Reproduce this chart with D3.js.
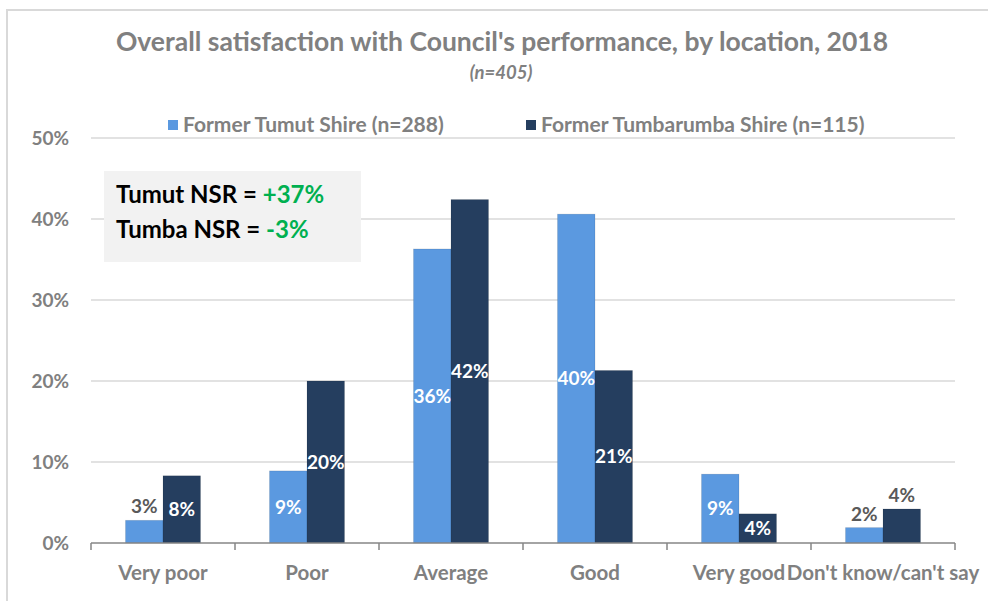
<!DOCTYPE html>
<html>
<head>
<meta charset="utf-8">
<script src="https://cdn.jsdelivr.net/npm/d3@7"></script>
<style>
  body { margin: 0; background: #fff; }
  text { font-family: Lato, "Open Sans", sans-serif; font-weight: bold; }
</style>
</head>
<body>
<div id="chart"></div>
<script>
// chart data
let categories = ["Very poor", "Poor", "Average", "Good", "Very good", "Don't know/can't say"];
let seriesNames = ["Former Tumut Shire (n=288)", "Former Tumbarumba Shire (n=115)"];
let tumut = [2.8, 8.9, 36.3, 40.6, 8.5, 1.9];
let tumba = [8.3, 20.0, 42.4, 21.3, 3.6, 4.2];
let tumutLabels = ["3%", "9%", "36%", "40%", "9%", "2%"];
let tumbaLabels = ["8%", "20%", "42%", "21%", "4%", "4%"];
let yTicks = [0, 10, 20, 30, 40, 50];

// set SVG height, width, and margins
let svgWidth = 988;
let svgHeight = 601;
let margin = { top: 138, right: 33, bottom: 58, left: 91 };
let width = svgWidth - margin.left - margin.right;
let height = svgHeight - margin.top - margin.bottom;

let colors = ["#5B99E0", "#253E5F"];
// labels drawn above the bar instead of inside it
let outside = [["Very poor", 0], ["Don't know/can't say", 0], ["Don't know/can't say", 1]];

let svg = d3.select("#chart")
  .append("svg")
  .attr("width", svgWidth)
  .attr("height", svgHeight);

// chart frame
svg.append("path")
  .attr("d", `M7,${svgHeight} V10 H${svgWidth}`)
  .attr("fill", "none")
  .attr("stroke", "#d9d9d9")
  .attr("stroke-width", 2);

// title
svg.append("text")
  .attr("x", 502)
  .attr("y", 51)
  .attr("text-anchor", "middle")
  .attr("fill", "#808080")
  .style("font-size", "26.5px")
  .text("Overall satisfaction with Council's performance, by location, 2018");

svg.append("text")
  .attr("x", 501)
  .attr("y", 79)
  .attr("text-anchor", "middle")
  .attr("fill", "#808080")
  .style("font-size", "18.5px")
  .style("font-style", "italic")
  .text("(n=405)");

let chartGroup = svg.append("g")
  .attr("transform", `translate(${margin.left}, ${margin.top})`);

let xScale = d3.scaleBand()
  .domain(categories)
  .range([0, width]);

let xInner = d3.scaleBand()
  .domain([0, 1])
  .range([0, 75])
  .padding(0);

let yScale = d3.scaleLinear()
  .domain([0, 50])
  .range([height, 0]);

// gridlines
chartGroup.append("g")
  .selectAll("line")
  .data(yTicks.filter(d => d > 0))
  .join("line")
  .attr("x1", 0)
  .attr("x2", width)
  .attr("y1", d => yScale(d))
  .attr("y2", d => yScale(d))
  .attr("stroke", "#d9d9d9")
  .attr("stroke-width", 1.5);

// y axis labels
let leftAxis = d3.axisLeft(yScale)
  .tickValues(yTicks)
  .tickFormat(d => d + "%")
  .tickSize(0)
  .tickPadding(22);

let yAxis = chartGroup.append("g").call(leftAxis);
yAxis.select(".domain").remove();
yAxis.selectAll("text")
  .attr("fill", "#808080")
  .style("font-size", "19px")
  .style("font-family", "Lato, sans-serif");

// bars
let series = [tumut, tumba];
let labels = [tumutLabels, tumbaLabels];
let barData = [];
categories.forEach((c, i) => {
  series.forEach((s, j) => {
    barData.push({ cat: c, s: j, value: s[i], label: labels[j][i] });
  });
});

let offset = (xScale.bandwidth() - 75) / 2;

chartGroup.selectAll("rect.bar")
  .data(barData)
  .join("rect")
  .attr("class", "bar")
  .attr("x", d => xScale(d.cat) + offset + xInner(d.s))
  .attr("y", d => yScale(d.value))
  .attr("width", xInner.bandwidth())
  .attr("height", d => height - yScale(d.value))
  .attr("fill", d => colors[d.s])
  .attr("stroke", "rgba(0,0,0,0.12)")
  .attr("stroke-width", 0.8);

// value labels
let isOutside = d => outside.some(o => o[0] === d.cat && o[1] === d.s);
chartGroup.selectAll("text.val")
  .data(barData)
  .join("text")
  .attr("class", "val")
  .attr("x", d => xScale(d.cat) + offset + xInner(d.s) + xInner.bandwidth() / 2)
  .attr("y", d => isOutside(d) ? yScale(d.value) - 7 : (yScale(d.value) + height) / 2)
  .attr("dy", d => isOutside(d) ? 0 : "0.35em")
  .attr("text-anchor", "middle")
  .attr("fill", d => isOutside(d) ? "#595959" : "#ffffff")
  .style("font-size", "19px")
  .text(d => d.label);

// x axis
let bottomAxis = d3.axisBottom(xScale)
  .tickSize(0)
  .tickPadding(22);

let xAxis = chartGroup.append("g")
  .attr("transform", `translate(0, ${height})`)
  .call(bottomAxis);
xAxis.select(".domain").remove();
xAxis.selectAll("text")
  .attr("fill", "#808080")
  .style("font-size", "20.5px")
  .style("font-family", "Lato, sans-serif");

chartGroup.append("line")
  .attr("x1", 0)
  .attr("x2", width)
  .attr("y1", height)
  .attr("y2", height)
  .attr("stroke", "#868686")
  .attr("stroke-width", 1.5);

chartGroup.selectAll("line.tick-mark")
  .data(d3.range(categories.length + 1))
  .join("line")
  .attr("class", "tick-mark")
  .attr("x1", d => d * xScale.bandwidth())
  .attr("x2", d => d * xScale.bandwidth())
  .attr("y1", height)
  .attr("y2", height + 7)
  .attr("stroke", "#868686")
  .attr("stroke-width", 1.5);

// legend
let legendX = [168, 526];
let legend = svg.append("g")
  .selectAll("g")
  .data(seriesNames)
  .join("g")
  .attr("transform", (d, i) => `translate(${legendX[i]}, 125)`);

legend.append("rect")
  .attr("x", 0)
  .attr("y", -5)
  .attr("width", 10)
  .attr("height", 10)
  .attr("fill", (d, i) => colors[i]);

legend.append("text")
  .attr("x", 15)
  .attr("y", 0)
  .attr("dy", "0.35em")
  .attr("fill", "#808080")
  .style("font-size", "21px")
  .text(d => d);

// NSR box
let nsrLines = [["Tumut NSR = ", "+37%"], ["Tumba NSR = ", "-3%"]];
svg.append("rect")
  .attr("x", 104)
  .attr("y", 171)
  .attr("width", 257)
  .attr("height", 91)
  .attr("fill", "#f2f2f2");

let nsr = svg.append("g")
  .selectAll("text")
  .data(nsrLines)
  .join("text")
  .attr("x", 116)
  .attr("y", (d, i) => 203 + i * 35)
  .style("font-size", "24px");

nsr.append("tspan").attr("fill", "#000").text(d => d[0]);
nsr.append("tspan").attr("fill", "#00B050").text(d => d[1]);
</script>
</body>
</html>
